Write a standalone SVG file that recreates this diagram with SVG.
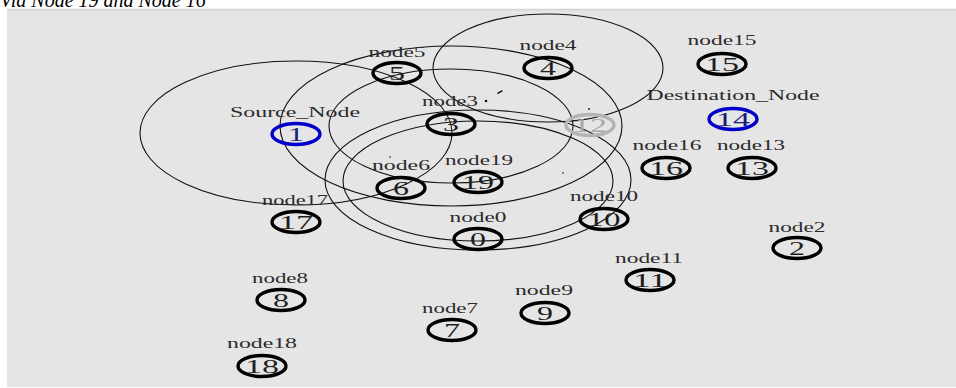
<svg xmlns="http://www.w3.org/2000/svg" width="956" height="388" viewBox="0 0 956 388">
  <style>
    .panel { fill: #e5e5e5; }
    .ring { fill: none; stroke: #111; stroke-width: 1.1; }
    .node { fill: none; stroke: #000; stroke-width: 3.4; }
    .node.end { stroke: #0000c8; }
    .node.idle { stroke: #b4b4b4; }
    .lbl { font-family: "Liberation Serif", "Times New Roman", serif; font-size: 14px; fill: #2a2a2a; text-anchor: middle; }
    .num { font-family: "Liberation Serif", "Times New Roman", serif; font-size: 18px; fill: #1e1e1e; text-anchor: middle; }
    .num.end { fill: #1c1c78; }
    .num.idle { fill: #a8a8a8; }
    .title { font-family: "Liberation Serif", "Times New Roman", serif; font-style: italic; font-size: 20px; fill: #000; }
    .pkt { fill: #111; }
  </style>

  <rect width="956" height="388" fill="#fff"/>
  <text class="title" x="0" y="7">Via Node 19 and Node 16</text>
  <rect class="panel" x="7" y="9" width="949" height="378"/>
  <line x1="7" y1="9.5" x2="956" y2="9.5" stroke="#d2d2d2" stroke-width="1.5"/>

  <!-- transmission range rings -->
  <g id="connectors">
    <ellipse class="ring" cx="296" cy="133" rx="156" ry="72"/>
    <ellipse class="ring" cx="548" cy="68" rx="115" ry="54"/>
    <ellipse class="ring" cx="451" cy="126" rx="171" ry="80"/>
    <ellipse class="ring" cx="451" cy="126" rx="122" ry="57"/>
    <ellipse class="ring" cx="478" cy="180" rx="153" ry="70"/>
    <ellipse class="ring" cx="478" cy="181" rx="135" ry="60"/>
    <!-- packets in flight -->
    <path class="pkt" d="M497 93 l5 -3 l0.8 1.3 l-5 3 z"/>
    <circle class="pkt" cx="486" cy="101" r="1.3"/>
    <circle class="pkt" cx="589" cy="109" r="0.9"/>
    <circle class="pkt" cx="390" cy="157" r="0.8"/>
    <circle class="pkt" cx="563" cy="173" r="0.8"/>
  </g>

  <g id="node5">
    <ellipse class="node" cx="397" cy="73" rx="24" ry="10.5"/>
    <text class="num" x="397" y="79.5" textLength="16" lengthAdjust="spacingAndGlyphs">5</text>
    <text class="lbl" x="397" y="57" textLength="57" lengthAdjust="spacingAndGlyphs">node5</text>
  </g>
  <g id="node4">
    <ellipse class="node" cx="548" cy="68" rx="24" ry="10.5"/>
    <text class="num" x="548" y="74.5" textLength="16" lengthAdjust="spacingAndGlyphs">4</text>
    <text class="lbl" x="548" y="50" textLength="57" lengthAdjust="spacingAndGlyphs">node4</text>
  </g>
  <g id="node15">
    <ellipse class="node" cx="722" cy="64" rx="24" ry="10.5"/>
    <text class="num" x="722" y="70.5" textLength="34" lengthAdjust="spacingAndGlyphs">15</text>
    <text class="lbl" x="722" y="45" textLength="69" lengthAdjust="spacingAndGlyphs">node15</text>
  </g>
  <g id="node1">
    <ellipse class="node end" cx="296" cy="134" rx="24" ry="10.5"/>
    <text class="num end" x="296" y="140.5" textLength="16" lengthAdjust="spacingAndGlyphs">1</text>
    <text class="lbl" x="295" y="117" textLength="130" lengthAdjust="spacingAndGlyphs">Source_Node</text>
  </g>
  <g id="node3">
    <ellipse class="node" cx="451" cy="124" rx="24" ry="10.5"/>
    <text class="num" x="451" y="130.5" textLength="16" lengthAdjust="spacingAndGlyphs">3</text>
    <text class="lbl" x="450" y="106" textLength="56" lengthAdjust="spacingAndGlyphs">node3</text>
  </g>
  <g id="node12">
    <ellipse class="node idle" cx="590" cy="125" rx="24" ry="10.5"/>
    <text class="num idle" x="590" y="131.5" textLength="34" lengthAdjust="spacingAndGlyphs">12</text>
  </g>
  <g id="node14">
    <ellipse class="node end" cx="733" cy="119" rx="24" ry="10.5"/>
    <text class="num end" x="733" y="125.5" textLength="34" lengthAdjust="spacingAndGlyphs">14</text>
    <text class="lbl" x="733" y="100" textLength="173" lengthAdjust="spacingAndGlyphs">Destination_Node</text>
  </g>
  <g id="node16">
    <ellipse class="node" cx="666" cy="168" rx="24" ry="10.5"/>
    <text class="num" x="666" y="174.5" textLength="34" lengthAdjust="spacingAndGlyphs">16</text>
    <text class="lbl" x="667" y="150" textLength="69" lengthAdjust="spacingAndGlyphs">node16</text>
  </g>
  <g id="node13">
    <ellipse class="node" cx="752" cy="168" rx="24" ry="10.5"/>
    <text class="num" x="752" y="174.5" textLength="34" lengthAdjust="spacingAndGlyphs">13</text>
    <text class="lbl" x="751" y="150" textLength="68" lengthAdjust="spacingAndGlyphs">node13</text>
  </g>
  <g id="node6">
    <ellipse class="node" cx="401" cy="188" rx="24" ry="10.5"/>
    <text class="num" x="401" y="194.5" textLength="16" lengthAdjust="spacingAndGlyphs">6</text>
    <text class="lbl" x="401" y="170" textLength="58" lengthAdjust="spacingAndGlyphs">node6</text>
  </g>
  <g id="node19">
    <ellipse class="node" cx="478" cy="182" rx="24" ry="10.5"/>
    <text class="num" x="478" y="188.5" textLength="32" lengthAdjust="spacingAndGlyphs">19</text>
    <text class="lbl" x="479" y="165" textLength="68" lengthAdjust="spacingAndGlyphs">node19</text>
  </g>
  <g id="node17">
    <ellipse class="node" cx="296" cy="222" rx="24" ry="10.5"/>
    <text class="num" x="296" y="228.5" textLength="34" lengthAdjust="spacingAndGlyphs">17</text>
    <text class="lbl" x="295" y="205" textLength="66" lengthAdjust="spacingAndGlyphs">node17</text>
  </g>
  <g id="node10">
    <ellipse class="node" cx="604" cy="219" rx="24" ry="10.5"/>
    <text class="num" x="604" y="225.5" textLength="33" lengthAdjust="spacingAndGlyphs">10</text>
    <text class="lbl" x="604" y="201" textLength="68" lengthAdjust="spacingAndGlyphs">node10</text>
  </g>
  <g id="node0">
    <ellipse class="node" cx="478" cy="239" rx="24" ry="10.5"/>
    <text class="num" x="478" y="245.5" textLength="16" lengthAdjust="spacingAndGlyphs">0</text>
    <text class="lbl" x="478" y="222" textLength="57" lengthAdjust="spacingAndGlyphs">node0</text>
  </g>
  <g id="node2">
    <ellipse class="node" cx="797" cy="248" rx="24" ry="10.5"/>
    <text class="num" x="797" y="254.5" textLength="16" lengthAdjust="spacingAndGlyphs">2</text>
    <text class="lbl" x="797" y="232" textLength="57" lengthAdjust="spacingAndGlyphs">node2</text>
  </g>
  <g id="node11">
    <ellipse class="node" cx="650" cy="280" rx="24" ry="10.5"/>
    <text class="num" x="650" y="286.5" textLength="34" lengthAdjust="spacingAndGlyphs">11</text>
    <text class="lbl" x="649" y="263" textLength="68" lengthAdjust="spacingAndGlyphs">node11</text>
  </g>
  <g id="node9">
    <ellipse class="node" cx="545" cy="313" rx="24" ry="10.5"/>
    <text class="num" x="545" y="319.5" textLength="16" lengthAdjust="spacingAndGlyphs">9</text>
    <text class="lbl" x="544" y="295" textLength="58" lengthAdjust="spacingAndGlyphs">node9</text>
  </g>
  <g id="node8">
    <ellipse class="node" cx="281" cy="300" rx="24" ry="10.5"/>
    <text class="num" x="281" y="306.5" textLength="16" lengthAdjust="spacingAndGlyphs">8</text>
    <text class="lbl" x="280" y="283" textLength="56" lengthAdjust="spacingAndGlyphs">node8</text>
  </g>
  <g id="node7">
    <ellipse class="node" cx="452" cy="330" rx="24" ry="10.5"/>
    <text class="num" x="452" y="336.5" textLength="16" lengthAdjust="spacingAndGlyphs">7</text>
    <text class="lbl" x="450" y="313" textLength="56" lengthAdjust="spacingAndGlyphs">node7</text>
  </g>
  <g id="node18">
    <ellipse class="node" cx="262" cy="366" rx="24" ry="10.5"/>
    <text class="num" x="262" y="372.5" textLength="34" lengthAdjust="spacingAndGlyphs">18</text>
    <text class="lbl" x="262" y="348" textLength="70" lengthAdjust="spacingAndGlyphs">node18</text>
  </g>
</svg>
